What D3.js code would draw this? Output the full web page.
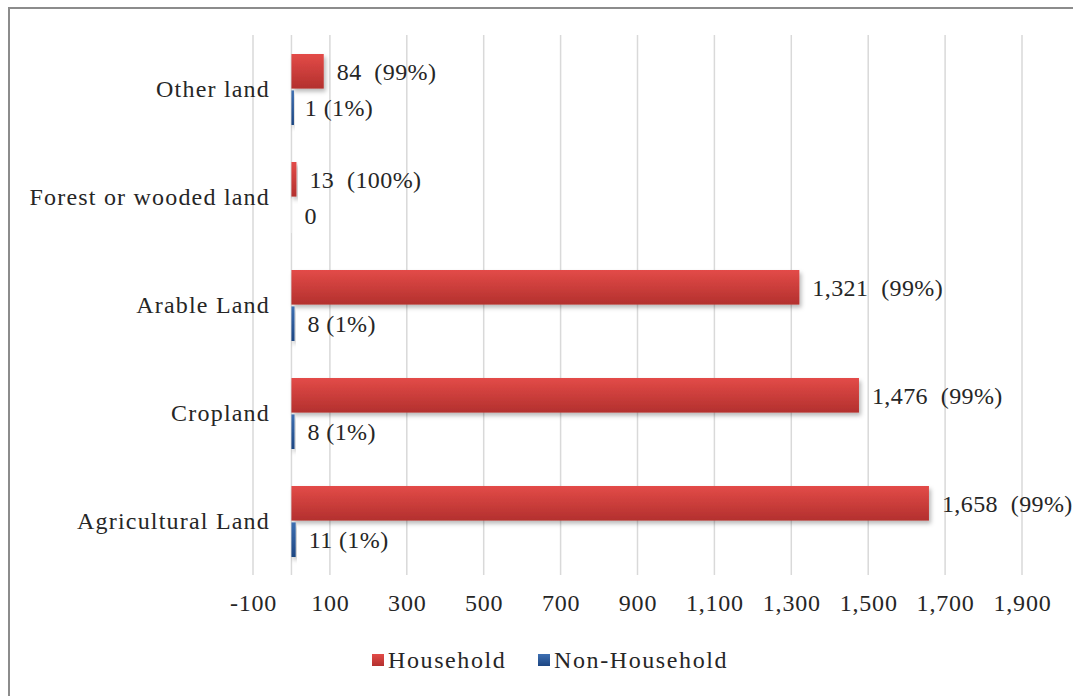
<!DOCTYPE html>
<html lang="en">
<head>
    <meta charset="UTF-8" />
    <title>Land by holder type</title>
    <script src="https://d3js.org/d3.v7.js"></script>
    <style>
        body { margin: 0; background: #fff; }
        text { font-family: "Liberation Serif", "Times New Roman", serif; fill: #262626; white-space: pre; }
    </style>
</head>
<body>
    <script>
        var w = 1073;
        var h = 696;

        // data
        var categories = ["Other land", "Forest or wooded land", "Arable Land", "Cropland", "Agricultural Land"];
        var series = ["Household", "Non-Household"];
        var household = [84, 13, 1321, 1476, 1658];
        var householdPct = ["99%", "100%", "99%", "99%", "99%"];
        var nonHousehold = [1, 0, 8, 8, 11];
        var nonHouseholdPct = ["1%", "", "1%", "1%", "1%"];
        var tickValues = [-100, 100, 300, 500, 700, 900, 1100, 1300, 1500, 1700, 1900];

        var rows = categories.map(function (c, i) {
            return [
                { cat: c, s: "Household", v: household[i], pct: householdPct[i] },
                { cat: c, s: "Non-Household", v: nonHousehold[i], pct: nonHouseholdPct[i] }
            ];
        });

        var svg = d3.select("body").append("svg")
            .attr("width", w)
            .attr("height", h);

        var defs = svg.append("defs");
        var grads = { "Household": ["#e34b48", "#b3302e"], "Non-Household": ["#3d6fb2", "#1d4682"] };
        series.forEach(function (s, i) {
            var g = defs.append("linearGradient").attr("id", "g" + i)
                .attr("x1", 0).attr("y1", 0).attr("x2", 0).attr("y2", 1);
            g.append("stop").attr("offset", "0%").attr("stop-color", grads[s][0]);
            g.append("stop").attr("offset", "100%").attr("stop-color", grads[s][1]);
        });
        var f = defs.append("filter").attr("id", "shadow")
            .attr("x", "-10%").attr("y", "-30%").attr("width", "130%").attr("height", "170%");
        f.append("feDropShadow").attr("dx", 2).attr("dy", 3).attr("stdDeviation", 2)
            .attr("flood-color", "#000").attr("flood-opacity", 0.28);

        // outer frame (only left and top show in the crop)
        svg.append("rect")
            .attr("x", 9).attr("y", 8)
            .attr("width", w + 20).attr("height", h + 20)
            .attr("fill", "none")
            .attr("stroke", "#8c8c8c")
            .attr("stroke-width", 2);

        var x = d3.scaleLinear().domain([-100, 1900]).range([253, 1022]);
        var y = d3.scaleBand().domain(categories).range([35, 575]);
        var sub = d3.scaleBand().domain(series).range([19, 90]).paddingInner(0.05);
        var color = d3.scaleOrdinal().domain(series).range(["url(#g0)", "url(#g1)"]);
        var fmt = d3.format(",");
        var tickFmt = function (d) { return fmt(d).replace("\u2212", "-"); };

        // gridlines
        svg.append("g").selectAll("line")
            .data(tickValues.concat([0]))
            .enter().append("line")
            .attr("x1", function (d) { return x(d); })
            .attr("x2", function (d) { return x(d); })
            .attr("y1", 35).attr("y2", 575)
            .attr("stroke", "#d9d9d9")
            .attr("stroke-width", 1.5);

        // x axis labels
        var xAxis = d3.axisBottom(x).tickValues(tickValues).tickFormat(tickFmt).tickSize(0).tickPadding(0);
        var ax = svg.append("g").attr("transform", "translate(0,591)").call(xAxis);
        ax.select(".domain").remove();
        ax.selectAll("text").style("font-size", "24px").style("letter-spacing", "0.8px")
            .attr("dy", "0.85em").attr("fill", "#262626");

        // category labels
        svg.append("g").selectAll("text")
            .data(categories)
            .enter().append("text")
            .attr("x", 270)
            .attr("y", function (d) { return y(d) + y.bandwidth() / 2; })
            .attr("dy", "0.35em")
            .attr("text-anchor", "end")
            .style("font-size", "24px")
            .style("letter-spacing", "1.2px")
            .text(function (d) { return d; });

        var groups = svg.append("g").selectAll("g")
            .data(rows)
            .enter().append("g")
            .attr("transform", function (d) { return "translate(0," + y(d[0].cat) + ")"; });

        groups.selectAll("rect")
            .data(function (d) { return d; })
            .enter().append("rect")
            .attr("x", function (d) { return x(0); })
            .attr("y", function (d) { return sub(d.s); })
            .attr("width", function (d) { return d.v === 0 ? 0.8 : Math.max(x(d.v) - x(0), 2.5); })
            .attr("height", sub.bandwidth())
            .attr("fill", function (d) { return d.v === 0 ? "#f2f2f2" : color(d.s); })
            .attr("filter", function (d) { return d.v === 0 ? null : "url(#shadow)"; });

        groups.selectAll("text")
            .data(function (d) { return d; })
            .enter().append("text")
            .attr("x", function (d) { return x(d.v) + 13; })
            .attr("y", function (d) { return sub(d.s) + sub.bandwidth() / 2; })
            .attr("dy", "0.35em")
            .style("font-size", "24px")
            .style("letter-spacing", "0.4px")
            .text(function (d) {
                if (!d.pct) return fmt(d.v);
                var gap = d.s === "Household" ? "  " : " ";
                return fmt(d.v) + gap + "(" + d.pct + ")";
            });

        // legend
        var legendX = [372, 538];
        var legend = svg.append("g").selectAll("g")
            .data(series)
            .enter().append("g")
            .attr("transform", function (d, i) { return "translate(" + legendX[i] + ",654)"; });
        legend.append("rect")
            .attr("width", 12).attr("height", 12)
            .attr("fill", function (d) { return color(d); });
        legend.append("text")
            .attr("x", 16).attr("y", 6)
            .attr("dy", "0.35em")
            .style("font-size", "24px")
            .style("letter-spacing", "1.6px")
            .text(function (d) { return d; });
    </script>
</body>
</html>
